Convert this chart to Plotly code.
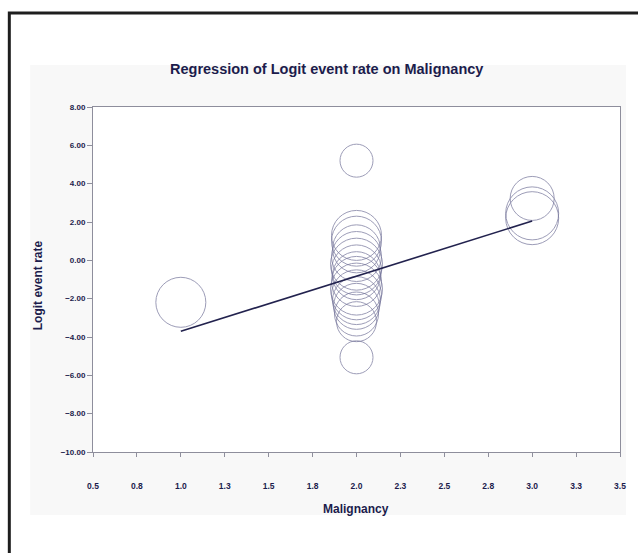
import plotly.graph_objects as go

# Study-level data: malignancy score, logit event rate and relative study weight
malignancy = [1.0,
              2.0, 2.0,
              2.0, 2.0, 2.0, 2.0, 2.0, 2.0, 2.0, 2.0, 2.0, 2.0, 2.0, 2.0, 2.0, 2.0,
              3.0, 3.0, 3.0]
logit_rate = [-2.19,
              5.20, -5.06,
              1.30, 1.00, 0.60, 0.20, -0.20, -0.50, -0.80, -1.10, -1.50, -1.80, -2.10, -2.40, -2.80, -3.20,
              3.23, 2.45, 2.20]
weights = [5.0,
           3.3, 3.3,
           5.0, 5.0, 4.8, 5.0, 5.2, 5.0, 4.8, 5.0, 5.2, 5.0, 4.8, 4.6, 4.4, 4.0,
           4.4, 5.3, 5.3]

# Fitted regression line end points
fit_x = [1.0, 3.0]
fit_y = [-3.70, 2.05]

x_tickvals = [0.5, 0.75, 1.0, 1.25, 1.5, 1.75, 2.0, 2.25, 2.5, 2.75, 3.0, 3.25, 3.5]
x_ticktext = ["0.5", "0.8", "1.0", "1.3", "1.5", "1.8", "2.0", "2.3", "2.5", "2.8", "3.0", "3.3", "3.5"]
y_tickvals = [-10, -8, -6, -4, -2, 0, 2, 4, 6, 8]

NAVY = "#1c1c4c"
AXIS_GRAY = "#8e8e9c"
FONT = "Liberation Sans, Arial, sans-serif"

fig = go.Figure()

fig.add_trace(go.Scatter(
    x=malignancy, y=logit_rate, mode="markers",
    marker=dict(size=weights, sizemode="diameter", sizeref=0.1,
                color="rgba(0,0,0,0)",
                line=dict(color="#74749a", width=1)),
    hoverinfo="x+y", showlegend=False,
))

fig.add_trace(go.Scatter(
    x=fit_x, y=fit_y, mode="lines",
    line=dict(color="#22224e", width=1.6),
    showlegend=False, hoverinfo="skip",
))

# plot-area geometry in pixels, used to place decorations in paper units
L, R, T, B = 93, 622, 107, 452
W, H = 638, 553
def px(x):
    return (x - L) / (R - L)
def py(y):
    return (B - y) / (B - T)

shapes = [
    # light chart-area background
    dict(type="rect", xref="paper", yref="paper", layer="below",
         x0=px(30), x1=px(628), y0=py(515), y1=py(65),
         fillcolor="#f8f8f8", line=dict(width=0)),
    # white plot area
    dict(type="rect", xref="paper", yref="paper", layer="below",
         x0=0, x1=1, y0=0, y1=1,
         fillcolor="white", line=dict(width=0)),
    # outer dark frame
    dict(type="rect", xref="paper", yref="paper", layer="above",
         x0=px(9), x1=px(645), y0=py(565), y1=py(13),
         fillcolor="rgba(0,0,0,0)", line=dict(color="#1e1e1e", width=3)),
]

annotations = [
    dict(text="<b>Regression of Logit event rate on Malignancy</b>",
         xref="paper", yref="paper", x=px(327), y=py(69),
         xanchor="center", yanchor="middle",
         showarrow=False, font=dict(family=FONT, size=14.5, color=NAVY)),
    dict(text="<b>Malignancy</b>",
         xref="paper", yref="paper", x=px(357), y=py(509),
         xanchor="center", yanchor="middle",
         showarrow=False, font=dict(family=FONT, size=12, color=NAVY)),
    dict(text="<b>Logit event rate</b>", textangle=-90,
         xref="paper", yref="paper", x=px(38), y=py(285),
         xanchor="center", yanchor="middle",
         showarrow=False, font=dict(family=FONT, size=12, color=NAVY)),
]

fig.update_layout(
    width=W, height=H,
    margin=dict(l=L, r=W - R, t=T, b=H - B),
    paper_bgcolor="white", plot_bgcolor="white",
    shapes=shapes, annotations=annotations,
    font=dict(family=FONT, color=NAVY),
    showlegend=False,
)

fig.update_xaxes(
    range=[0.5, 3.5], tickvals=x_tickvals, ticktext=x_ticktext,
    showgrid=False, zeroline=False,
    showline=True, linecolor=AXIS_GRAY, linewidth=1, mirror=True,
    ticks="outside", ticklen=4, tickcolor=AXIS_GRAY,
    ticklabelstandoff=22,
    tickfont=dict(family=FONT, size=8.5, color=NAVY, weight="bold"),
)
fig.update_yaxes(
    range=[-10, 8], tickvals=y_tickvals, tickformat=".2f",
    showgrid=False, zeroline=False,
    showline=True, linecolor=AXIS_GRAY, linewidth=1, mirror=True,
    ticks="outside", ticklen=5, tickcolor=AXIS_GRAY,
    tickfont=dict(family=FONT, size=8, color=NAVY, weight="bold"),
)

fig.write_html("out.html")
